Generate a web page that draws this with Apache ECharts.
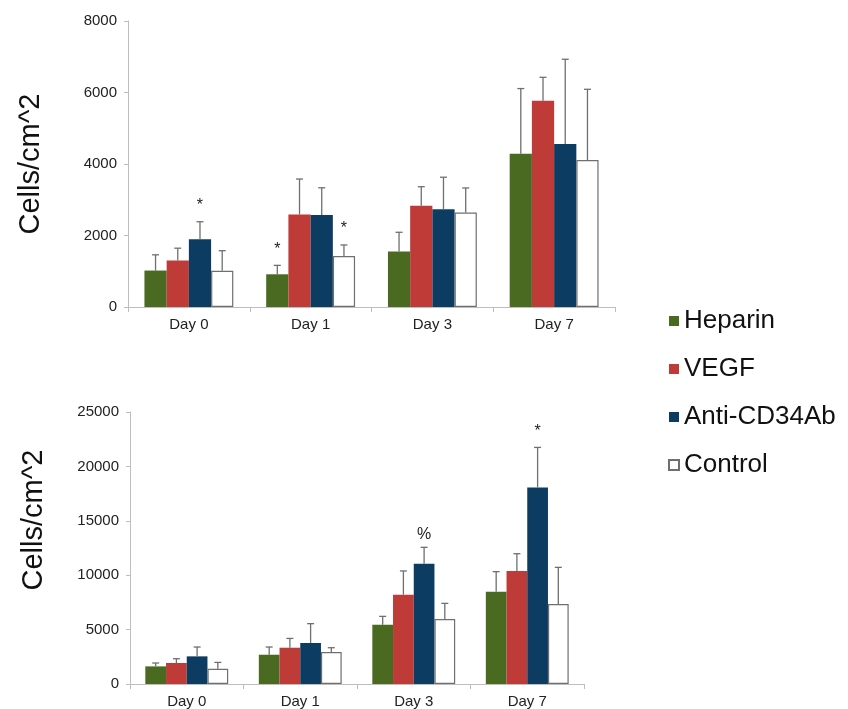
<!DOCTYPE html>
<html>
<head>
<meta charset="utf-8">
<script src="https://cdn.jsdelivr.net/npm/echarts@6/dist/echarts.min.js"></script>
<style>
  html, body { margin: 0; padding: 0; background: #fff; }
  #chart { width: 848px; height: 709px; }
</style>
</head>
<body>
<div id="chart"></div>
<script>
// Time points and treatment groups
const days = ['Day 0', 'Day 1', 'Day 3', 'Day 7'];
const groups = ['Heparin', 'VEGF', 'Anti-CD34Ab', 'Control'];

// Upper panel: mean cell density (cells/cm^2)
const upperHeparin = [1020, 915, 1550, 4290];
const upperVEGF = [1300, 2590, 2835, 5770];
const upperAnti = [1895, 2575, 2735, 4560];
const upperControl = [1015, 1425, 2640, 4110];
// Upper panel: standard deviations
const upperHeparinSD = [440, 250, 540, 1820];
const upperVEGFSD = [345, 990, 530, 655];
const upperAntiSD = [490, 760, 895, 2370];
const upperControlSD = [560, 310, 690, 1980];
// Upper panel: significance markers
const upperHeparinSig = ['', '*', '', ''];
const upperVEGFSig = ['', '', '', ''];
const upperAntiSig = ['*', '', '', ''];
const upperControlSig = ['', '*', '', ''];

// Lower panel: mean cell density (cells/cm^2)
const lowerHeparin = [1620, 2690, 5450, 8485];
const lowerVEGF = [1930, 3335, 8210, 10385];
const lowerAnti = [2540, 3770, 11060, 18070];
const lowerControl = [1405, 2940, 5975, 7355];
// Lower panel: standard deviations
const lowerHeparinSD = [310, 710, 765, 1840];
const lowerVEGFSD = [395, 855, 2180, 1590];
const lowerAntiSD = [860, 1775, 1500, 3675];
const lowerControlSD = [580, 395, 1435, 3365];
// Lower panel: significance markers
const lowerHeparinSig = ['', '', '', ''];
const lowerVEGFSig = ['', '', '', ''];
const lowerAntiSig = ['', '', '%', '*'];
const lowerControlSig = ['', '', '', ''];

// Axis tick settings
const upperMax = 8000, upperStep = 2000;
const lowerMax = 25000, lowerStep = 5000;

const colors = ['#4a6a22', '#be3b38', '#0d3c63', '#ffffff'];
const CAT_GAP = 0.27;
const AXIS_COLOR = '#bdbdbd';
const FONT = '"Liberation Sans", Arial, Helvetica, sans-serif';

const panels = [
  {
    means: [upperHeparin, upperVEGF, upperAnti, upperControl],
    sds: [upperHeparinSD, upperVEGFSD, upperAntiSD, upperControlSD],
    sig: [upperHeparinSig, upperVEGFSig, upperAntiSig, upperControlSig]
  },
  {
    means: [lowerHeparin, lowerVEGF, lowerAnti, lowerControl],
    sds: [lowerHeparinSD, lowerVEGFSD, lowerAntiSD, lowerControlSD],
    sig: [lowerHeparinSig, lowerVEGFSig, lowerAntiSig, lowerControlSig]
  }
];

// Draws the upward error bar for one group, plus any marker above it
function errorBarRenderer(groupIdx, marks) {
  return function (params, api) {
    const cat = api.value(0);
    const mean = api.value(1);
    const sd = api.value(2);
    const band = api.size([1, 0])[0];
    const barW = band * (1 - CAT_GAP) / groups.length;
    const x = api.coord([cat, 0])[0] + (groupIdx - (groups.length - 1) / 2) * barW;
    const yTop = api.coord([cat, mean])[1];
    const yErr = api.coord([cat, mean + sd])[1];
    const lineStyle = { stroke: '#6f6f6f', lineWidth: 1.3 };
    const children = [
      { type: 'line', shape: { x1: x, y1: yTop, x2: x, y2: yErr }, style: lineStyle },
      { type: 'line', shape: { x1: x - 3.5, y1: yErr, x2: x + 3.5, y2: yErr }, style: lineStyle }
    ];
    const mark = marks[params.dataIndex];
    if (mark) {
      children.push({
        type: 'text',
        x: x,
        y: yErr - (mark === '*' ? 8 : 5),
        style: {
          text: mark,
          fill: '#222',
          font: '16px ' + FONT,
          textAlign: 'center',
          textVerticalAlign: 'bottom'
        }
      });
    }
    return { type: 'group', children: children };
  };
}

const grids = [
  { left: 128, right: 233, top: 21, height: 286 },
  { left: 130, right: 264, top: 412, height: 272 }
];

const xAxes = grids.map((g, i) => ({
  type: 'category',
  gridIndex: i,
  data: days,
  axisLine: { lineStyle: { color: AXIS_COLOR, width: 1 } },
  axisTick: { show: true, length: 5, lineStyle: { color: AXIS_COLOR } },
  axisLabel: { color: '#222', fontSize: 15, fontFamily: FONT, margin: 10 }
}));

const yAxes = [
  { max: upperMax, interval: upperStep },
  { max: lowerMax, interval: lowerStep }
].map((cfg, i) => ({
  type: 'value',
  gridIndex: i,
  min: 0,
  max: cfg.max,
  interval: cfg.interval,
  splitLine: { show: false },
  axisLine: { show: true, lineStyle: { color: AXIS_COLOR, width: 1 } },
  axisTick: { show: true, length: 4, lineStyle: { color: AXIS_COLOR } },
  axisLabel: {
    color: '#222',
    fontSize: 15,
    fontFamily: FONT,
    margin: 11,
    formatter: (v) => String(v)
  }
}));

const series = [];
panels.forEach((panel, p) => {
  groups.forEach((name, g) => {
    const isControl = g === 3;
    series.push({
      name: name,
      type: 'bar',
      xAxisIndex: p,
      yAxisIndex: p,
      data: panel.means[g],
      barGap: '0%',
      barCategoryGap: (CAT_GAP * 100) + '%',
      itemStyle: {
        color: colors[g],
        borderColor: isControl ? '#6f6f6f' : colors[g],
        borderWidth: isControl ? 1.2 : 0
      },
      emphasis: { disabled: true },
      animation: false
    });
  });
  groups.forEach((name, g) => {
    series.push({
      name: name + ' SD',
      type: 'custom',
      xAxisIndex: p,
      yAxisIndex: p,
      z: 5,
      data: panel.means[g].map((m, k) => [k, m, panel.sds[g][k]]),
      renderItem: errorBarRenderer(g, panel.sig[g]),
      animation: false,
      silent: true
    });
  });
});

const chart = echarts.init(document.getElementById('chart'), null, { renderer: 'canvas' });
chart.setOption({
  backgroundColor: '#ffffff',
  animation: false,
  grid: grids,
  xAxis: xAxes,
  yAxis: yAxes,
  legend: {
    data: groups,
    orient: 'vertical',
    left: 663,
    top: 303,
    itemWidth: 10,
    itemHeight: 10,
    itemGap: 22,
    itemTextGap: 10,
    icon: 'rect',
    textStyle: { color: '#111', fontSize: 26, fontFamily: FONT, lineHeight: 26 },
    selectedMode: false
  },
  graphic: [
    {
      type: 'text',
      x: 31, y: 164,
      rotation: Math.PI / 2,
      style: { text: 'Cells/cm^2', fill: '#111', font: '29px ' + FONT, textAlign: 'center', textVerticalAlign: 'middle' }
    },
    {
      type: 'text',
      x: 34, y: 520,
      rotation: Math.PI / 2,
      style: { text: 'Cells/cm^2', fill: '#111', font: '29px ' + FONT, textAlign: 'center', textVerticalAlign: 'middle' }
    }
  ],
  series: series
});
</script>
</body>
</html>
